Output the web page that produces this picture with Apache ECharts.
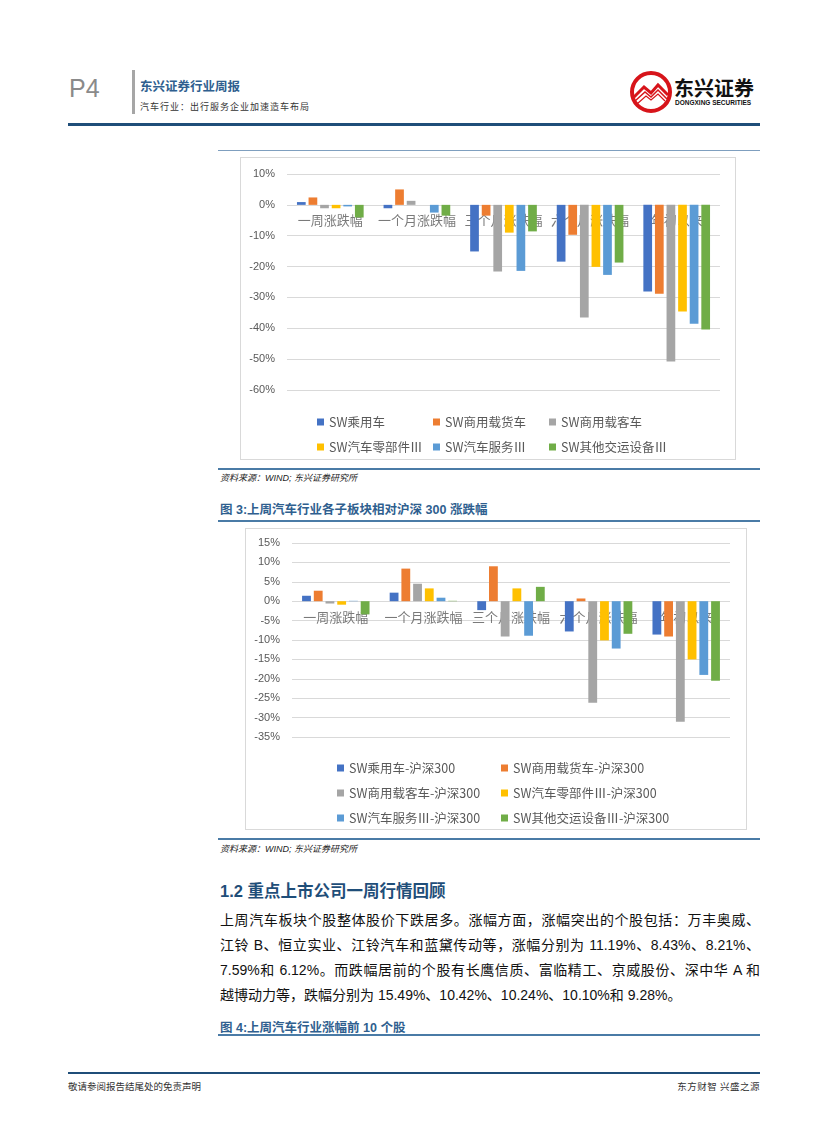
<!DOCTYPE html>
<html>
<head>
<meta charset="utf-8">
<script src="https://cdn.jsdelivr.net/npm/echarts@6/dist/echarts.min.js"></script>
<style>
  html, body { margin:0; padding:0; background:#fff; }
  body { width:827px; height:1122px; position:relative; overflow:hidden;
         font-family: "Liberation Sans", "Noto Sans CJK SC", sans-serif; }
  .abs { position:absolute; white-space:nowrap; }
  .hline { position:absolute; }
  .cap { position:absolute; left:220px; font-size:12.5px; font-weight:bold; color:#2f5f8f;
         font-family:"Liberation Sans","Noto Sans CJK SC",sans-serif; }
  .src { position:absolute; left:220px; font-size:9px; font-style:italic; color:#222;
         font-family:"Liberation Sans","Noto Sans CJK SC",sans-serif; }
  .para { position:absolute; left:220px; width:540px; font-size:14px; color:#111;
          font-family:"Liberation Sans","Noto Sans CJK SC",sans-serif;
          text-align:justify; text-align-last:justify; white-space:nowrap; }
  .box { position:absolute; border:1px solid #d9d9d9; }
</style>
</head>
<body>
<!-- header -->
<div class="abs" style="left:69px;top:74px;font-size:25px;color:#8a8a8a;font-family:'Liberation Sans',sans-serif;font-weight:normal;">P4</div>
<div class="hline" style="left:132px;top:70px;width:3px;height:44px;background:#a6a6a6;"></div>
<div class="abs" style="left:140px;top:76px;font-size:12.5px;font-weight:bold;color:#2f5f8f;font-family:'Noto Sans CJK SC',sans-serif;">东兴证券行业周报</div>
<div class="abs" style="left:140px;top:100px;font-size:9px;color:#333;letter-spacing:1px;font-family:'Noto Sans CJK SC',sans-serif;">汽车行业：出行服务企业加速造车布局</div>
<!-- logo -->
<svg class="abs" style="left:629px;top:70px;" width="44" height="44" viewBox="0 0 44 44">
  <circle cx="22" cy="22" r="19" fill="#fff" stroke="#d7141a" stroke-width="4"/>
  <path d="M5 27 L15 17 L22 23 L29 15 L39 25" fill="none" stroke="#d7141a" stroke-width="3"/>
  <path d="M6 31 L16 22 L22 27 L29 20 L38 29" fill="none" stroke="#d7141a" stroke-width="1.5"/>
  <path d="M8 34 L17 26 L22 30 L29 24 L36 31" fill="none" stroke="#d7141a" stroke-width="1.2"/>
</svg>
<div class="abs" style="left:674px;top:76px;font-size:20px;font-weight:bold;color:#111;letter-spacing:0px;font-family:'Noto Sans CJK SC',sans-serif;line-height:24px;">东兴证券</div>
<div class="abs" style="left:675px;top:99px;font-size:6.5px;font-weight:bold;color:#111;font-family:'Liberation Sans',sans-serif;">DONGXING SECURITIES</div>
<div class="hline" style="left:68px;top:123px;width:692px;height:3px;background:#1f4e79;"></div>

<!-- figure 2 area -->
<div class="hline" style="left:218px;top:150px;width:542px;height:1px;background:#7f9fbf;"></div>
<div class="box" style="left:240px;top:157px;width:494px;height:301px;"><div id="c1" style="width:494px;height:301px;"></div></div>
<div class="hline" style="left:218px;top:468px;width:542px;height:2px;background:#4a7ba6;"></div>
<div class="src" style="top:471px;">资料来源：WIND; 东兴证券研究所</div>
<div class="cap" style="top:499px;">图 3:上周汽车行业各子板块相对沪深 300 涨跌幅</div>
<div class="hline" style="left:218px;top:520px;width:542px;height:2px;background:#4a7ba6;"></div>

<!-- figure 3 -->
<div class="box" style="left:245px;top:528px;width:500px;height:300px;"><div id="c2" style="width:500px;height:300px;"></div></div>
<div class="hline" style="left:218px;top:838px;width:542px;height:2px;background:#4a7ba6;"></div>
<div class="src" style="top:842px;">资料来源：WIND; 东兴证券研究所</div>

<!-- text section -->
<div class="abs" style="left:220px;top:878px;font-size:16.5px;font-weight:bold;color:#1f4e79;font-family:'Liberation Sans','Noto Sans CJK SC',sans-serif;">1.2 重点上市公司一周行情回顾</div>
<div class="para" style="top:909px;">上周汽车板块个股整体股价下跌居多。涨幅方面，涨幅突出的个股包括：万丰奥威、</div>
<div class="para" style="top:934px;">江铃 B、恒立实业、江铃汽车和蓝黛传动等，涨幅分别为 11.19%、8.43%、8.21%、</div>
<div class="para" style="top:959px;">7.59%和 6.12%。而跌幅居前的个股有长鹰信质、富临精工、京威股份、深中华 A 和</div>
<div class="para" style="top:984px;text-align-last:left;">越博动力等，跌幅分别为 15.49%、10.42%、10.24%、10.10%和 9.28%。</div>
<div class="cap" style="top:1017px;">图 4:上周汽车行业涨幅前 10 个股</div>
<div class="hline" style="left:218px;top:1034px;width:542px;height:2px;background:#4a7ba6;"></div>

<!-- footer -->
<div class="hline" style="left:68px;top:1072px;width:692px;height:2px;background:#1f4e79;"></div>
<div class="abs" style="left:68px;top:1079px;font-size:9.5px;color:#333;font-family:'Noto Sans CJK SC',sans-serif;">敬请参阅报告结尾处的免责声明</div>
<div class="abs" style="right:67px;top:1079px;font-size:9.5px;color:#333;letter-spacing:0.5px;font-family:'Noto Sans CJK SC',sans-serif;">东方财智 兴盛之源</div>

<script>
// ---------- data ----------
const categories = ['一周涨跌幅', '一个月涨跌幅', '三个月涨跌幅', '六个月涨跌幅', '年初以来'];
const seriesNames1 = ['SW乘用车', 'SW商用载货车', 'SW商用载客车', 'SW汽车零部件Ⅲ', 'SW汽车服务Ⅲ', 'SW其他交运设备Ⅲ'];
const seriesNames2 = ['SW乘用车-沪深300', 'SW商用载货车-沪深300', 'SW商用载客车-沪深300', 'SW汽车零部件Ⅲ-沪深300', 'SW汽车服务Ⅲ-沪深300', 'SW其他交运设备Ⅲ-沪深300'];

// Figure 2: absolute change (%)
const c1Passenger = [0.9, -1.1, -15.1, -18.4, -28.1];
const c1Truck     = [2.4, 5.0, -3.5, -9.7, -28.8];
const c1Bus       = [-1.1, 1.3, -21.6, -36.5, -50.8];
const c1Parts     = [-1.1, 0.0, -9.0, -20.1, -34.6];
const c1Service   = [-0.5, -2.5, -21.4, -22.7, -38.5];
const c1Other     = [-4.1, -3.5, -8.6, -18.7, -40.4];

// Figure 3: relative to CSI 300 (%)
const c2Passenger = [1.4, 2.2, -2.3, -7.8, -8.6];
const c2Truck     = [2.7, 8.4, 9.0, 0.7, -9.1];
const c2Bus       = [-0.6, 4.5, -9.1, -26.2, -31.1];
const c2Parts     = [-0.9, 3.3, 3.3, -10.1, -15.0];
const c2Service   = [0.1, 0.9, -8.9, -12.2, -19.0];
const c2Other     = [-3.4, 0.1, 3.7, -8.4, -20.5];

const yTicks1 = { min: -60, max: 10, interval: 10 };
const yTicks2 = { min: -35, max: 15, interval: 5 };

const colors = ['#4472C4', '#ED7D31', '#A5A5A5', '#FFC000', '#5B9BD5', '#70AD47'];

function buildOption(names, data, ticks, grid, legendPos, legendTextWidth, legendWidth) {
  const bars = names.map((n, i) => ({
    name: n, type: 'bar', data: data[i],
    itemStyle: { color: colors[i] },
    barGap: '33%', barCategoryGap: '23%', z: 3
  }));
  // category labels sitting just under the zero line (Excel "next to axis" style)
  const catLabels = {
    type: 'scatter', silent: true, z: 1, symbolSize: 0,
    itemStyle: { color: 'rgba(0,0,0,0)' },
    data: categories.map(c => [c, 0]),
    label: { show: true, position: 'bottom', distance: 9, formatter: p => p.value[0],
             color: '#595959', fontSize: 13, fontFamily: '"Noto Sans CJK SC", sans-serif' },
    tooltip: { show: false }
  };
  return {
    animation: false,
    textStyle: { fontFamily: '"Noto Sans CJK SC", sans-serif' },
    grid: grid,
    legend: {
      left: legendPos.left, top: legendPos.top, width: legendWidth,
      orient: 'horizontal',
      itemWidth: 7, itemHeight: 7, itemGap: 9,
      icon: 'rect',
      data: names,
      textStyle: { color: '#595959', fontSize: 12.5, width: legendTextWidth, lineHeight: 16,
                   fontFamily: '"Noto Sans CJK SC", sans-serif' },
      selectedMode: false
    },
    xAxis: {
      type: 'category', data: categories,
      axisLine: { show: false },
      axisTick: { show: false },
      axisLabel: { show: false }
    },
    yAxis: {
      type: 'value', min: ticks.min, max: ticks.max, interval: ticks.interval,
      axisLine: { show: false }, axisTick: { show: false },
      axisLabel: { formatter: '{value}%', color: '#595959', fontSize: 11, margin: 12,
                   fontFamily: '"Liberation Sans", sans-serif' },
      splitLine: { lineStyle: { color: '#d9d9d9', width: 1 } }
    },
    series: [catLabels].concat(bars)
  };
}

const chart1 = echarts.init(document.getElementById('c1'));
chart1.setOption(buildOption(
  seriesNames1,
  [c1Passenger, c1Truck, c1Bus, c1Parts, c1Service, c1Other],
  yTicks1,
  { left: 46, top: 16, width: 433, height: 216 },
  { left: 71, top: 251 }, 95, 380
));

const chart2 = echarts.init(document.getElementById('c2'));
chart2.setOption(buildOption(
  seriesNames2,
  [c2Passenger, c2Truck, c2Bus, c2Parts, c2Service, c2Other],
  yTicks2,
  { left: 46, top: 14, width: 438, height: 194 },
  { left: 86, top: 226 }, 143, 400
));
</script>
</body>
</html>
